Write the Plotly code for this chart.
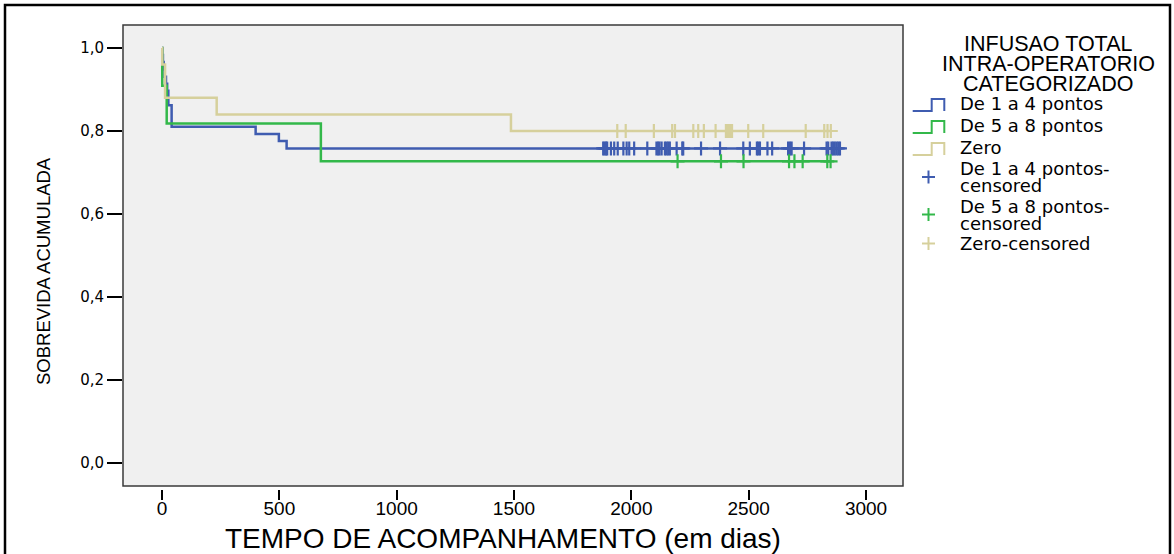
import numpy as np
import plotly.graph_objects as go

# Kaplan-Meier step points (time in days, cumulative survival)
blue_t = [0, 2, 4, 7, 11, 17, 22, 27, 41, 399, 498, 531]
blue_s = [1.0, 0.983, 0.966, 0.948, 0.931, 0.914, 0.897, 0.862, 0.810, 0.793, 0.776, 0.758]

green_t = [0, 1, 20, 677]
green_s = [1.0, 0.909, 0.818, 0.727]

zero_t = [0, 1, 13, 233, 1487]
zero_s = [1.0, 0.96, 0.88, 0.84, 0.80]

# Censored follow-up times (days)
blue_cens = [1880, 1886, 1892, 1897, 1913, 1927, 1942, 1966, 1980, 1991, 2012, 2068,
             2107, 2114, 2120, 2129, 2143, 2150, 2157, 2164, 2193, 2217, 2221, 2297,
             2378, 2477, 2505, 2535, 2541, 2548, 2580, 2600, 2668, 2676, 2683, 2736,
             2832, 2839, 2853, 2860, 2867, 2875, 2882, 2889]
green_cens = [2197, 2382, 2478, 2672, 2695, 2730, 2835, 2849]
zero_cens = [1940, 1976, 2096, 2174, 2186, 2264, 2285, 2309, 2359, 2403, 2408, 2412,
             2420, 2429, 2498, 2562, 2743, 2822, 2836, 2850]

group_names = ["De 1 a 4 pontos", "De 5 a 8 pontos", "Zero"]
colors = ["#3f5cb0", "#33b84a", "#d6d09c"]

x_ticks = [0, 500, 1000, 1500, 2000, 2500, 3000]
y_ticks = [0.0, 0.2, 0.4, 0.6, 0.8, 1.0]

W, H = 1174, 554
L, R, T, B = 123, 903, 25, 489  # plot frame in pixels (B = tick baseline)


def px(x):
    return (x - L) / (R - L)


def py(y):
    return (B - y) / (B - T)


def surv_at(times, surv, t):
    idx = np.searchsorted(np.asarray(times), np.asarray(t), side="right") - 1
    return np.asarray(surv)[idx]


fig = go.Figure()

groups = [(blue_t, blue_s, blue_cens), (green_t, green_s, green_cens), (zero_t, zero_s, zero_cens)]
for (t, s, c), name, col in zip(groups, group_names, colors):
    tt = list(t) + [max(c)]
    ss = list(s) + [s[-1]]
    fig.add_trace(go.Scatter(x=tt, y=ss, mode="lines", line=dict(color=col, width=2.5, shape="hv"),
                             name=name, showlegend=False, hoverinfo="skip"))

for (t, s, c), name, col in zip(groups, group_names, colors):
    fig.add_trace(go.Scatter(x=c, y=surv_at(t, s, c), mode="markers",
                             marker=dict(symbol="cross-thin", size=10, line=dict(color=col, width=2.2)),
                             name=name + "-censored", showlegend=False))

shapes = []
annotations = []

# outer frame
shapes.append(dict(type="rect", xref="paper", yref="paper", x0=px(5), x1=px(1170), y0=py(620), y1=py(5),
                   line=dict(color="black", width=2.5), fillcolor="rgba(0,0,0,0)", layer="below"))
# plot frame
shapes.append(dict(type="rect", xref="paper", yref="paper", x0=0, x1=1, y0=py(486), y1=1,
                   line=dict(color="#3a3a3a", width=1.5), layer="above"))

# custom legend
title_lines = ["INFUSAO TOTAL", "INTRA-OPERATORIO", "CATEGORIZADO"]
for line, yy in zip(title_lines, [44, 64, 84]):
    annotations.append(dict(text=line, x=px(1048), y=py(yy), xref="paper", yref="paper",
                            showarrow=False, xanchor="center", yanchor="middle",
                            font=dict(family="Liberation Sans, Arial, sans-serif", size=21.5, color="black")))

for col, ybot in zip(colors, [111, 133, 155]):
    pts = [(912.7, ybot), (931.7, ybot), (931.7, ybot - 12), (944.3, ybot - 12), (944.3, ybot)]
    path = "M " + " L ".join(f"{px(a):.5f},{py(b):.5f}" for a, b in pts)
    shapes.append(dict(type="path", xref="paper", yref="paper", path=path,
                       line=dict(color=col, width=2)))

for col, yc in zip(colors, [177, 214.5, 243.5]):
    shapes.append(dict(type="line", xref="paper", yref="paper", x0=px(922), x1=px(935), y0=py(yc), y1=py(yc),
                       line=dict(color=col, width=2)))
    shapes.append(dict(type="line", xref="paper", yref="paper", x0=px(928.5), x1=px(928.5),
                       y0=py(yc - 6.5), y1=py(yc + 6.5), line=dict(color=col, width=2)))

item_text = [("De 1 a 4 pontos", 103), ("De 5 a 8 pontos", 125), ("Zero", 147.5),
             ("De 1 a 4 pontos-", 169), ("censored", 185.5), ("De 5 a 8 pontos-", 206.5),
             ("censored", 223), ("Zero-censored", 243.5)]
for txt, yy in item_text:
    annotations.append(dict(text=txt, x=px(958), y=py(yy), xref="paper", yref="paper",
                            showarrow=False, xanchor="left", yanchor="middle",
                            font=dict(family="DejaVu Sans, Verdana, sans-serif", size=18, color="black")))

# axis titles
annotations.append(dict(text="TEMPO DE ACOMPANHAMENTO (em dias)", x=px(503), y=py(538),
                        xref="paper", yref="paper", showarrow=False, xanchor="center", yanchor="middle",
                        font=dict(family="Liberation Sans, Arial, sans-serif", size=28, color="black")))
annotations.append(dict(text="SOBREVIDA ACUMULADA", x=px(43), y=py(271), textangle=-90,
                        xref="paper", yref="paper", showarrow=False, xanchor="center", yanchor="middle",
                        font=dict(family="Liberation Sans, Arial, sans-serif", size=18.5,
                                  color="black")))

fig.update_layout(
    width=W, height=H,
    margin=dict(l=L, r=W - R, t=T, b=H - B, pad=0),
    paper_bgcolor="white",
    plot_bgcolor="#f0f0f0",
    separators=",.",
    showlegend=False,
    shapes=shapes,
    annotations=annotations,
    xaxis=dict(range=[-166.2, 3157.6], tickvals=x_ticks, tickformat="d", ticks="outside",
               ticklen=10, tickwidth=2, tickcolor="black", showgrid=False, zeroline=False,
               showline=False, anchor="free", position=0, ticklabelstandoff=-8,
               tickfont=dict(family="Liberation Sans, Arial, sans-serif", size=19, color="black")),
    yaxis=dict(range=[-0.0554, 1.0554], domain=[py(486), 1], tickvals=y_ticks, tickformat=".1f",
               ticks="outside", ticklen=15, tickwidth=1.5, tickcolor="black", showgrid=False,
               zeroline=False, showline=False,
               tickfont=dict(family="DejaVu Sans, Verdana, sans-serif", size=15, color="black")),
)

fig.write_html("out.html")
